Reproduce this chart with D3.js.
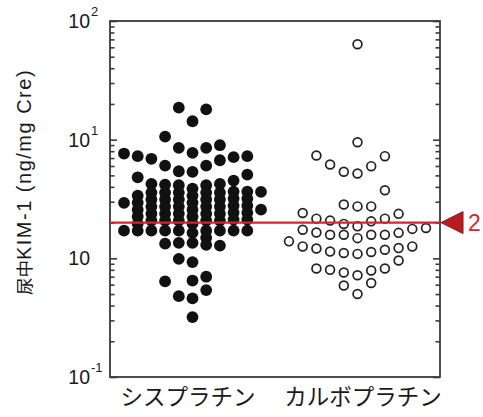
<!DOCTYPE html>
<html>
<head>
<meta charset="utf-8">
<script src="https://cdn.jsdelivr.net/npm/d3@7"></script>
<style>
  body { margin: 0; background: #fff; }
  text { font-family: "Liberation Sans", Arial, "Noto Sans CJK JP", sans-serif; }
  .cat { font-family: "Noto Sans CJK JP", sans-serif; }
</style>
</head>
<body>
<div id="chart"></div>
<script>

// groups and the dot-plot column slots (left to right)
const groups = ["シスプラチン", "カルボプラチン"];
const slots = [-5, -4, -3, -2, -1, 0, 1, 2, 3, 4, 5];

// urinary KIM-1 (ng/mg Cre), one inner array per column slot
const cisplatin = [
    [7.64, 2.93, 1.71],
    [7.26, 4.82, 3.38, 2.95, 2.57, 2.25, 1.96, 1.71],
    [6.90, 4.24, 3.58, 3.13, 2.73, 2.38, 2.08, 1.71],
    [10.6, 6.05, 4.18, 3.58, 3.13, 2.73, 2.38, 2.08, 1.71, 1.33, 0.64],
    [18.6, 8.54, 5.42, 4.13, 3.58, 3.13, 2.73, 2.38, 2.08, 1.71, 1.35, 0.99, 0.48],
    [14.3, 7.75, 5.36, 3.87, 3.38, 2.95, 2.57, 2.25, 1.96, 1.64, 1.35, 0.93, 0.65, 0.46, 0.32],
    [18.0, 8.54, 6.05, 4.13, 3.58, 3.13, 2.73, 2.38, 2.08, 1.71, 1.49, 1.30, 0.70, 0.54],
    [8.98, 6.71, 4.24, 3.58, 3.13, 2.73, 2.38, 2.08, 1.71, 1.28],
    [7.12, 4.52, 3.65, 3.19, 2.78, 2.43, 2.12, 1.71],
    [7.26, 5.08, 3.65, 3.19, 2.78, 2.43, 2.12, 1.71],
    [3.63, 2.57]
];

const carboplatin = [
    [1.39],
    [2.41, 1.74, 1.26],
    [7.36, 2.16, 1.65, 1.21, 0.82],
    [6.17, 2.08, 1.58, 1.14, 0.80],
    [5.36, 2.84, 1.95, 1.58, 1.11, 0.76, 0.59],
    [63.7, 9.5, 5.18, 2.74, 1.86, 1.48, 1.09, 0.72, 0.50],
    [5.98, 2.74, 2.05, 1.58, 1.13, 0.79, 0.62],
    [7.26, 3.75, 2.16, 1.58, 1.18, 0.82],
    [2.37, 1.64, 1.22, 0.96],
    [1.77, 1.26],
    [1.80]
];

const cutoff = 2;
const majorTicks = [0.1, 1, 10, 100];
const majorExponents = ["-1", "", "1", "2"];

// flatten a group into {slot, value} points
function toPoints(cols) {
    let pts = [];
    cols.forEach((col, i) => col.forEach(v => pts.push({slot: slots[i], value: v})));
    return pts;
}

const width = 483, height = 417;
const margin = {top: 21, right: 43, bottom: 40, left: 110};
const innerW = width - margin.left - margin.right;
const innerH = height - margin.top - margin.bottom;

const svg = d3.select("#chart").append("svg")
    .attr("width", width)
    .attr("height", height);

const g = svg.append("g")
    .attr("transform", "translate(" + margin.left + "," + margin.top + ")");

// scales
const y = d3.scaleLog().domain([0.1, 100]).range([innerH, 0]);
const x = d3.scalePoint().domain(groups).range([0, innerW]).padding(0.5);
const dx = d3.scaleLinear().domain([-5, 5]).range([-68.5, 68.5]);

const minorTicks = y.ticks().filter(v => majorTicks.indexOf(v) < 0);

// frame
g.append("rect")
    .attr("width", innerW)
    .attr("height", innerH)
    .attr("fill", "none")
    .attr("stroke", "#3a3a3a")
    .attr("stroke-width", 1.8);

// inward ticks on both sides
function drawTicks(axisFn, tx, values, len) {
    let ax = g.append("g")
        .attr("transform", "translate(" + tx + ",0)")
        .call(axisFn(y).tickValues(values).tickSize(-len).tickFormat(""));
    ax.select(".domain").remove();
    ax.selectAll("line").attr("stroke", "#3a3a3a").attr("stroke-width", 1.6);
}
drawTicks(d3.axisLeft, 0, majorTicks, 7);
drawTicks(d3.axisLeft, 0, minorTicks, 4.5);
drawTicks(d3.axisRight, innerW, majorTicks, 7);
drawTicks(d3.axisRight, innerW, minorTicks, 4.5);

// tick labels 10^n
majorTicks.forEach((v, i) => {
    g.append("text")
        .attr("x", -20)
        .attr("y", y(v))
        .attr("dy", "0.36em")
        .attr("text-anchor", "end")
        .attr("font-size", 19.5)
        .attr("fill", "#1a1a1a")
        .text("10");
    g.append("text")
        .attr("x", -19)
        .attr("y", y(v) - 5)
        .attr("font-size", 13)
        .attr("fill", "#1a1a1a")
        .text(majorExponents[i]);
});

// axis title
let title = svg.append("text")
    .attr("transform", "translate(31,182) rotate(-90)")
    .attr("text-anchor", "middle")
    .attr("fill", "#1a1a1a");
title.append("tspan")
    .attr("font-size", 17.5)
    .text("尿中");
title.append("tspan")
    .attr("font-size", 20)
    .attr("letter-spacing", 1.5)
    .text("KIM-1 (ng/mg Cre)");

// category labels
const labelShift = [-4.5, 5.5];
groups.forEach((grp, i) => {
    g.append("text")
        .attr("class", "cat")
        .attr("x", x(grp) + labelShift[i])
        .attr("y", innerH + 28)
        .attr("text-anchor", "middle")
        .attr("font-size", 22.5)
        .attr("fill", "#1a1a1a")
        .text(grp);
});

// dots
g.append("g").selectAll("circle")
    .data(toPoints(cisplatin))
    .join("circle")
    .attr("cx", d => x(groups[0]) + dx(d.slot))
    .attr("cy", d => y(d.value))
    .attr("r", 5.9)
    .attr("fill", "#111");

g.append("g").selectAll("circle")
    .data(toPoints(carboplatin))
    .join("circle")
    .attr("cx", d => x(groups[1]) + dx(d.slot))
    .attr("cy", d => y(d.value))
    .attr("r", 4.4)
    .attr("fill", "#fff")
    .attr("stroke", "#222")
    .attr("stroke-width", 1.7);

// cutoff line and marker
const yc = y(cutoff);
g.append("line")
    .attr("x1", 0).attr("x2", innerW)
    .attr("y1", yc).attr("y2", yc)
    .attr("stroke", "#d3262d")
    .attr("stroke-width", 2.2);

g.append("path")
    .attr("d", "M" + (innerW + 1) + "," + yc + "L" + (innerW + 23) + "," + (yc - 11) + "L" + (innerW + 23) + "," + (yc + 11) + "Z")
    .attr("fill", "#b71c23")
    .attr("stroke", "#8e1318")
    .attr("stroke-width", 1);

g.append("text")
    .attr("x", innerW + 28)
    .attr("y", yc)
    .attr("dy", "0.36em")
    .attr("font-size", 23)
    .attr("fill", "#d6282e")
    .text(cutoff);

</script>
</body>
</html>
